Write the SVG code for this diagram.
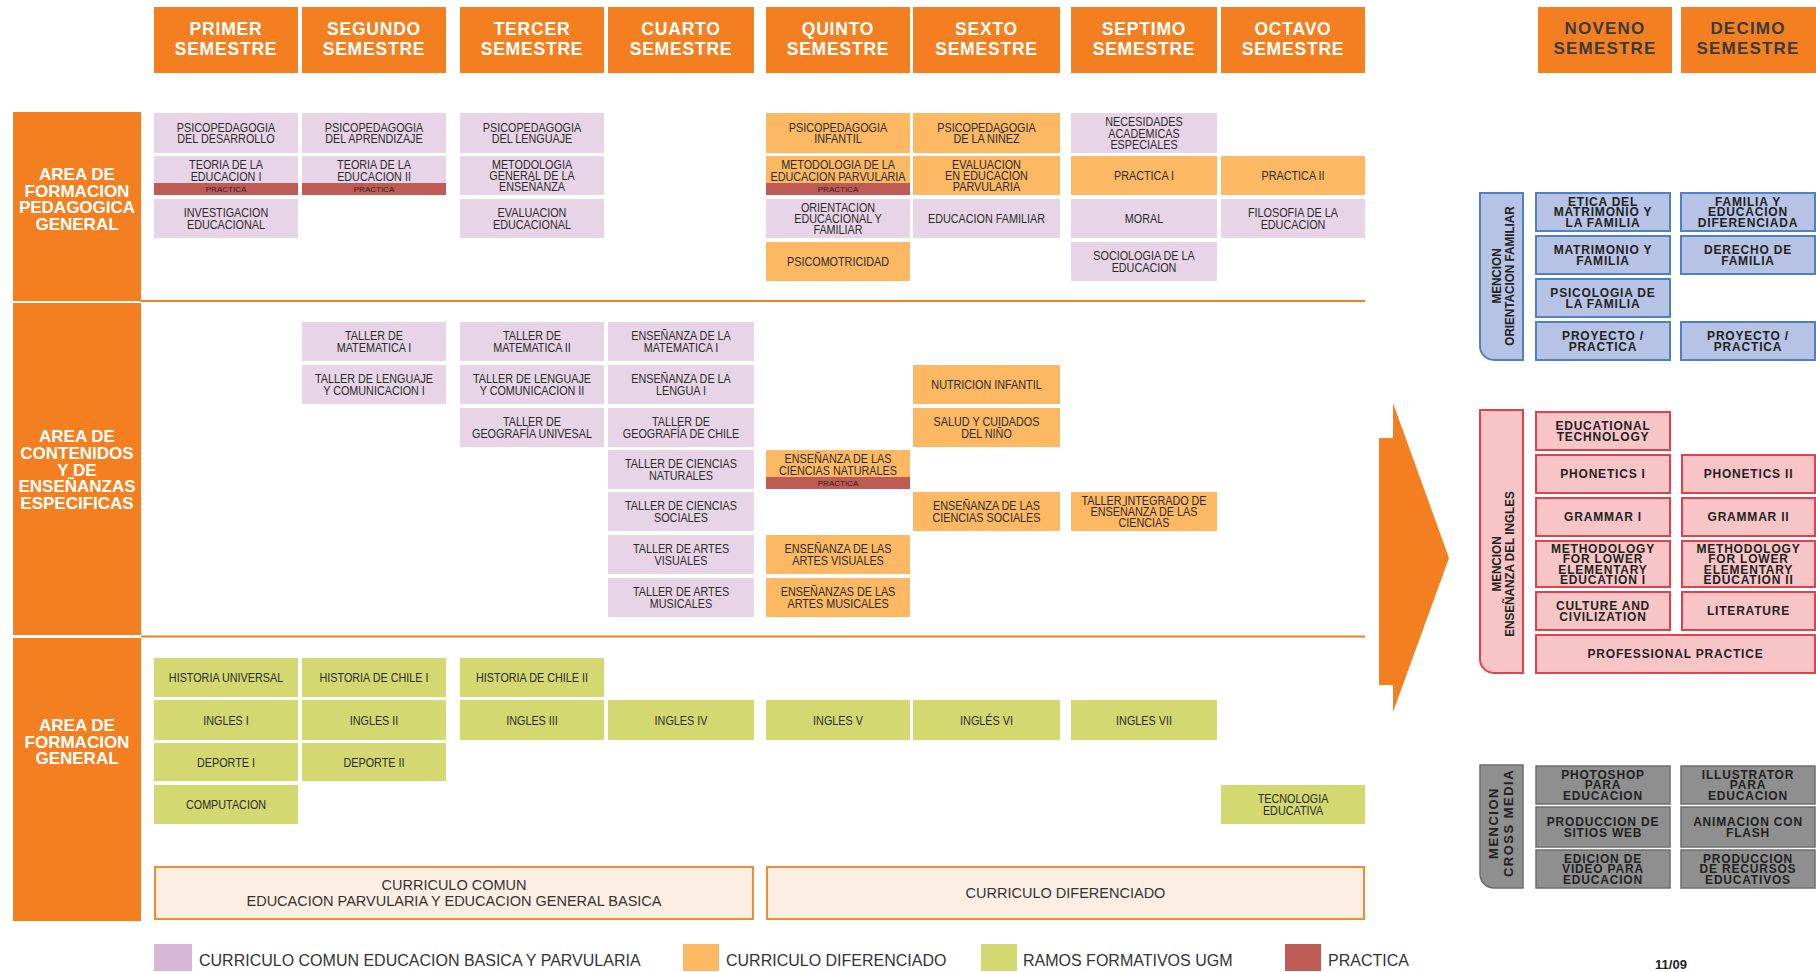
<svg xmlns="http://www.w3.org/2000/svg" width="1816" height="972" viewBox="0 0 1816 972">
<style>
.hd{fill:#f47f20}
.ht{font-family:"Liberation Sans",Arial,sans-serif;font-weight:bold;font-size:17.5px;fill:#fff;text-anchor:middle;letter-spacing:0.8px}
.ht2{font-family:"Liberation Sans",Arial,sans-serif;font-weight:bold;font-size:17px;fill:#3a3a3a;text-anchor:middle;letter-spacing:1.2px}
.at{font-family:"Liberation Sans",Arial,sans-serif;font-weight:bold;font-size:17px;fill:#fff;text-anchor:middle}
.p{fill:#e7d4e7}
.o{fill:#fdb863}
.g{fill:#d4d870}
.r{fill:#bf5b55}
.t{font-family:"Liberation Sans",Arial,sans-serif;font-size:12px;fill:#2b2b2b;text-anchor:middle}
.pt{font-family:"Liberation Sans",Arial,sans-serif;font-size:8px;fill:#3b2020;text-anchor:middle}
.bl{fill:#b7c3e4;stroke:#4e80c4;stroke-width:2}
.pk{fill:#f8c5c7;stroke:#e2404c;stroke-width:2}
.gy{fill:#8f8f8f;stroke:#6e6e6e;stroke-width:1.5}
.mt{font-family:"Liberation Sans",Arial,sans-serif;font-weight:bold;font-size:12px;fill:#222;text-anchor:middle;letter-spacing:0.8px}
.vt{font-family:"Liberation Sans",Arial,sans-serif;font-weight:bold;font-size:13px;fill:#222;text-anchor:middle}
.cb{fill:#fdeee3;stroke:#f58a35;stroke-width:2}
.ct{font-family:"Liberation Sans",Arial,sans-serif;font-size:14.5px;fill:#333;text-anchor:middle}
.lg{font-family:"Liberation Sans",Arial,sans-serif;font-size:16px;fill:#333}
.sep{stroke:#f47f20;stroke-width:2;fill:none}
</style>
<rect width="1816" height="972" fill="#fff"/>

<!-- semester headers -->
<g id="h1"><rect class="hd" x="154" y="7" width="144" height="66"/><text class="ht" x="226" y="35">PRIMER<tspan x="226" y="55">SEMESTRE</tspan></text></g>
<g id="h2"><rect class="hd" x="302" y="7" width="144" height="66"/><text class="ht" x="374" y="35">SEGUNDO<tspan x="374" y="55">SEMESTRE</tspan></text></g>
<g id="h3"><rect class="hd" x="460" y="7" width="144" height="66"/><text class="ht" x="532" y="35">TERCER<tspan x="532" y="55">SEMESTRE</tspan></text></g>
<g id="h4"><rect class="hd" x="608" y="7" width="146" height="66"/><text class="ht" x="681" y="35">CUARTO<tspan x="681" y="55">SEMESTRE</tspan></text></g>
<g id="h5"><rect class="hd" x="766" y="7" width="144" height="66"/><text class="ht" x="838" y="35">QUINTO<tspan x="838" y="55">SEMESTRE</tspan></text></g>
<g id="h6"><rect class="hd" x="913" y="7" width="147" height="66"/><text class="ht" x="986.5" y="35">SEXTO<tspan x="986.5" y="55">SEMESTRE</tspan></text></g>
<g id="h7"><rect class="hd" x="1071" y="7" width="146" height="66"/><text class="ht" x="1144" y="35">SEPTIMO<tspan x="1144" y="55">SEMESTRE</tspan></text></g>
<g id="h8"><rect class="hd" x="1221" y="7" width="144" height="66"/><text class="ht" x="1293" y="35">OCTAVO<tspan x="1293" y="55">SEMESTRE</tspan></text></g>
<g id="h9"><rect class="hd" x="1538" y="7" width="134" height="66"/><text class="ht2" x="1605" y="34">NOVENO<tspan x="1605" y="54">SEMESTRE</tspan></text></g>
<g id="h10"><rect class="hd" x="1681" y="7" width="135" height="66"/><text class="ht2" x="1748" y="34">DECIMO<tspan x="1748" y="54">SEMESTRE</tspan></text></g>

<!-- area labels -->
<g id="area1"><rect class="hd" x="13" y="112" width="128" height="189"/><text class="at" x="77" y="180">AREA DE<tspan x="77" y="196.5">FORMACION</tspan><tspan x="77" y="213">PEDAGOGICA</tspan><tspan x="77" y="230">GENERAL</tspan></text></g>
<g id="area2"><rect class="hd" x="13" y="303" width="128" height="332"/><text class="at" x="77" y="442">AREA DE<tspan x="77" y="459">CONTENIDOS</tspan><tspan x="77" y="475.5">Y DE</tspan><tspan x="77" y="492">ENSEÑANZAS</tspan><tspan x="77" y="509">ESPECIFICAS</tspan></text></g>
<g id="area3"><rect class="hd" x="13" y="638" width="128" height="283"/><text class="at" x="77" y="731">AREA DE<tspan x="77" y="747.5">FORMACION</tspan><tspan x="77" y="764">GENERAL</tspan></text></g>

<g id="separators">
<line class="sep" x1="141" y1="301" x2="1365" y2="301"/>
<line class="sep" x1="141" y1="636.5" x2="1365" y2="636.5"/>
</g>

<!-- AREA 1 -->
<g id="c1r1"><rect class="p" x="154" y="113" width="144" height="40"/><text class="t" transform="translate(226 133) scale(.9 1)"><tspan x="0" y="-1.25">PSICOPEDAGOGIA</tspan><tspan x="0" y="10.25">DEL DESARROLLO</tspan></text></g>
<g id="c1r2"><rect class="p" x="154" y="156" width="144" height="39"/><text class="t" transform="translate(226 170.5) scale(.9 1)"><tspan x="0" y="-1.25">TEORIA DE LA</tspan><tspan x="0" y="10.25">EDUCACION I</tspan></text><rect class="r" x="154" y="183" width="144" height="12"/><text class="pt" x="226" y="192">PRACTICA</text></g>
<g id="c1r3"><rect class="p" x="154" y="199" width="144" height="39"/><text class="t" transform="translate(226 218.5) scale(.9 1)"><tspan x="0" y="-1.25">INVESTIGACION</tspan><tspan x="0" y="10.25">EDUCACIONAL</tspan></text></g>
<g id="c2r1"><rect class="p" x="302" y="113" width="144" height="40"/><text class="t" transform="translate(374 133) scale(.9 1)"><tspan x="0" y="-1.25">PSICOPEDAGOGIA</tspan><tspan x="0" y="10.25">DEL APRENDIZAJE</tspan></text></g>
<g id="c2r2"><rect class="p" x="302" y="156" width="144" height="39"/><text class="t" transform="translate(374 170.5) scale(.9 1)"><tspan x="0" y="-1.25">TEORIA DE LA</tspan><tspan x="0" y="10.25">EDUCACION II</tspan></text><rect class="r" x="302" y="183" width="144" height="12"/><text class="pt" x="374" y="192">PRACTICA</text></g>
<g id="c3r1"><rect class="p" x="460" y="113" width="144" height="40"/><text class="t" transform="translate(532 133) scale(.9 1)"><tspan x="0" y="-1.25">PSICOPEDAGOGIA</tspan><tspan x="0" y="10.25">DEL LENGUAJE</tspan></text></g>
<g id="c3r2"><rect class="p" x="460" y="156" width="144" height="39"/><text class="t" transform="translate(532 175.5) scale(.9 1)"><tspan x="0" y="-7">METODOLOGIA</tspan><tspan x="0" y="4.5">GENERAL DE LA</tspan><tspan x="0" y="16">ENSEÑANZA</tspan></text></g>
<g id="c3r3"><rect class="p" x="460" y="199" width="144" height="39"/><text class="t" transform="translate(532 218.5) scale(.9 1)"><tspan x="0" y="-1.25">EVALUACION</tspan><tspan x="0" y="10.25">EDUCACIONAL</tspan></text></g>
<g id="c5r1"><rect class="o" x="766" y="113" width="144" height="40"/><text class="t" transform="translate(838 133) scale(.9 1)"><tspan x="0" y="-1.25">PSICOPEDAGOGIA</tspan><tspan x="0" y="10.25">INFANTIL</tspan></text></g>
<g id="c5r2"><rect class="o" x="766" y="156" width="144" height="39"/><text class="t" transform="translate(838 170.5) scale(.9 1)"><tspan x="0" y="-1.25">METODOLOGIA DE LA</tspan><tspan x="0" y="10.25">EDUCACION PARVULARIA</tspan></text><rect class="r" x="766" y="183" width="144" height="12"/><text class="pt" x="838" y="192">PRACTICA</text></g>
<g id="c5r3"><rect class="p" x="766" y="199" width="144" height="39"/><text class="t" transform="translate(838 218.5) scale(.9 1)"><tspan x="0" y="-7">ORIENTACION</tspan><tspan x="0" y="4.5">EDUCACIONAL Y</tspan><tspan x="0" y="16">FAMILIAR</tspan></text></g>
<g id="c5r4"><rect class="o" x="766" y="242" width="144" height="39"/><text class="t" transform="translate(838 261.5) scale(.9 1)"><tspan x="0" y="4.5">PSICOMOTRICIDAD</tspan></text></g>
<g id="c6r1"><rect class="o" x="913" y="113" width="147" height="40"/><text class="t" transform="translate(986.5 133) scale(.9 1)"><tspan x="0" y="-1.25">PSICOPEDAGOGIA</tspan><tspan x="0" y="10.25">DE LA NIÑEZ</tspan></text></g>
<g id="c6r2"><rect class="o" x="913" y="156" width="147" height="39"/><text class="t" transform="translate(986.5 175.5) scale(.9 1)"><tspan x="0" y="-7">EVALUACION</tspan><tspan x="0" y="4.5">EN EDUCACION</tspan><tspan x="0" y="16">PARVULARIA</tspan></text></g>
<g id="c6r3"><rect class="p" x="913" y="199" width="147" height="39"/><text class="t" transform="translate(986.5 218.5) scale(.9 1)"><tspan x="0" y="4.5">EDUCACION FAMILIAR</tspan></text></g>
<g id="c7r1"><rect class="p" x="1071" y="113" width="146" height="40"/><text class="t" transform="translate(1144 133) scale(.9 1)"><tspan x="0" y="-7">NECESIDADES</tspan><tspan x="0" y="4.5">ACADEMICAS</tspan><tspan x="0" y="16">ESPECIALES</tspan></text></g>
<g id="c7r2"><rect class="o" x="1071" y="156" width="146" height="39"/><text class="t" transform="translate(1144 175.5) scale(.9 1)"><tspan x="0" y="4.5">PRACTICA I</tspan></text></g>
<g id="c7r3"><rect class="p" x="1071" y="199" width="146" height="39"/><text class="t" transform="translate(1144 218.5) scale(.9 1)"><tspan x="0" y="4.5">MORAL</tspan></text></g>
<g id="c7r4"><rect class="p" x="1071" y="242" width="146" height="39"/><text class="t" transform="translate(1144 261.5) scale(.9 1)"><tspan x="0" y="-1.25">SOCIOLOGIA DE LA</tspan><tspan x="0" y="10.25">EDUCACION</tspan></text></g>
<g id="c8r2"><rect class="o" x="1221" y="156" width="144" height="39"/><text class="t" transform="translate(1293 175.5) scale(.9 1)"><tspan x="0" y="4.5">PRACTICA II</tspan></text></g>
<g id="c8r3"><rect class="p" x="1221" y="199" width="144" height="39"/><text class="t" transform="translate(1293 218.5) scale(.9 1)"><tspan x="0" y="-1.25">FILOSOFIA DE LA</tspan><tspan x="0" y="10.25">EDUCACION</tspan></text></g>

<!-- AREA 2 -->
<g id="a2c2r1"><rect class="p" x="302" y="322" width="144" height="39"/><text class="t" transform="translate(374 341.5) scale(.9 1)"><tspan x="0" y="-1.25">TALLER DE</tspan><tspan x="0" y="10.25">MATEMATICA I</tspan></text></g>
<g id="a2c2r2"><rect class="p" x="302" y="365" width="144" height="39"/><text class="t" transform="translate(374 384.5) scale(.9 1)"><tspan x="0" y="-1.25">TALLER DE LENGUAJE</tspan><tspan x="0" y="10.25">Y COMUNICACION I</tspan></text></g>
<g id="a2c3r1"><rect class="p" x="460" y="322" width="144" height="39"/><text class="t" transform="translate(532 341.5) scale(.9 1)"><tspan x="0" y="-1.25">TALLER DE</tspan><tspan x="0" y="10.25">MATEMATICA II</tspan></text></g>
<g id="a2c3r2"><rect class="p" x="460" y="365" width="144" height="39"/><text class="t" transform="translate(532 384.5) scale(.9 1)"><tspan x="0" y="-1.25">TALLER DE LENGUAJE</tspan><tspan x="0" y="10.25">Y COMUNICACION II</tspan></text></g>
<g id="a2c3r3"><rect class="p" x="460" y="408" width="144" height="39"/><text class="t" transform="translate(532 427.5) scale(.9 1)"><tspan x="0" y="-1.25">TALLER DE</tspan><tspan x="0" y="10.25">GEOGRAFÍA UNIVESAL</tspan></text></g>
<g id="a2c4r1"><rect class="p" x="608" y="322" width="146" height="39"/><text class="t" transform="translate(681 341.5) scale(.9 1)"><tspan x="0" y="-1.25">ENSEÑANZA DE LA</tspan><tspan x="0" y="10.25">MATEMATICA I</tspan></text></g>
<g id="a2c4r2"><rect class="p" x="608" y="365" width="146" height="39"/><text class="t" transform="translate(681 384.5) scale(.9 1)"><tspan x="0" y="-1.25">ENSEÑANZA DE LA</tspan><tspan x="0" y="10.25">LENGUA I</tspan></text></g>
<g id="a2c4r3"><rect class="p" x="608" y="408" width="146" height="39"/><text class="t" transform="translate(681 427.5) scale(.9 1)"><tspan x="0" y="-1.25">TALLER DE</tspan><tspan x="0" y="10.25">GEOGRAFÍA DE CHILE</tspan></text></g>
<g id="a2c4r4"><rect class="p" x="608" y="450" width="146" height="39"/><text class="t" transform="translate(681 469.5) scale(.9 1)"><tspan x="0" y="-1.25">TALLER DE CIENCIAS</tspan><tspan x="0" y="10.25">NATURALES</tspan></text></g>
<g id="a2c4r5"><rect class="p" x="608" y="492" width="146" height="39"/><text class="t" transform="translate(681 511.5) scale(.9 1)"><tspan x="0" y="-1.25">TALLER DE CIENCIAS</tspan><tspan x="0" y="10.25">SOCIALES</tspan></text></g>
<g id="a2c4r6"><rect class="p" x="608" y="535" width="146" height="39"/><text class="t" transform="translate(681 554.5) scale(.9 1)"><tspan x="0" y="-1.25">TALLER DE ARTES</tspan><tspan x="0" y="10.25">VISUALES</tspan></text></g>
<g id="a2c4r7"><rect class="p" x="608" y="578" width="146" height="39"/><text class="t" transform="translate(681 597.5) scale(.9 1)"><tspan x="0" y="-1.25">TALLER DE ARTES</tspan><tspan x="0" y="10.25">MUSICALES</tspan></text></g>
<g id="a2c5r4"><rect class="o" x="766" y="450" width="144" height="39"/><text class="t" transform="translate(838 464.5) scale(.9 1)"><tspan x="0" y="-1.25">ENSEÑANZA DE LAS</tspan><tspan x="0" y="10.25">CIENCIAS NATURALES</tspan></text><rect class="r" x="766" y="477" width="144" height="12"/><text class="pt" x="838" y="486">PRACTICA</text></g>
<g id="a2c5r6"><rect class="o" x="766" y="535" width="144" height="39"/><text class="t" transform="translate(838 554.5) scale(.9 1)"><tspan x="0" y="-1.25">ENSEÑANZA DE LAS</tspan><tspan x="0" y="10.25">ARTES VISUALES</tspan></text></g>
<g id="a2c5r7"><rect class="o" x="766" y="578" width="144" height="39"/><text class="t" transform="translate(838 597.5) scale(.9 1)"><tspan x="0" y="-1.25">ENSEÑANZAS DE LAS</tspan><tspan x="0" y="10.25">ARTES MUSICALES</tspan></text></g>
<g id="a2c6r2"><rect class="o" x="913" y="365" width="147" height="39"/><text class="t" transform="translate(986.5 384.5) scale(.9 1)"><tspan x="0" y="4.5">NUTRICION INFANTIL</tspan></text></g>
<g id="a2c6r3"><rect class="o" x="913" y="408" width="147" height="39"/><text class="t" transform="translate(986.5 427.5) scale(.9 1)"><tspan x="0" y="-1.25">SALUD Y CUIDADOS</tspan><tspan x="0" y="10.25">DEL NIÑO</tspan></text></g>
<g id="a2c6r5"><rect class="o" x="913" y="492" width="147" height="39"/><text class="t" transform="translate(986.5 511.5) scale(.9 1)"><tspan x="0" y="-1.25">ENSEÑANZA DE LAS</tspan><tspan x="0" y="10.25">CIENCIAS SOCIALES</tspan></text></g>
<g id="a2c7r5"><rect class="o" x="1071" y="492" width="146" height="39"/><text class="t" transform="translate(1144 511.5) scale(.9 1)"><tspan x="0" y="-7">TALLER INTEGRADO DE</tspan><tspan x="0" y="4.5">ENSEÑANZA DE LAS</tspan><tspan x="0" y="16">CIENCIAS</tspan></text></g>

<!-- AREA 3 -->
<g id="a3c1r1"><rect class="g" x="154" y="658" width="144" height="39"/><text class="t" transform="translate(226 677.5) scale(.9 1)"><tspan x="0" y="4.5">HISTORIA UNIVERSAL</tspan></text></g>
<g id="a3c1r2"><rect class="g" x="154" y="700" width="144" height="40"/><text class="t" transform="translate(226 720) scale(.9 1)"><tspan x="0" y="4.5">INGLES I</tspan></text></g>
<g id="a3c1r3"><rect class="g" x="154" y="743" width="144" height="38"/><text class="t" transform="translate(226 762) scale(.9 1)"><tspan x="0" y="4.5">DEPORTE I</tspan></text></g>
<g id="a3c1r4"><rect class="g" x="154" y="785" width="144" height="39"/><text class="t" transform="translate(226 804.5) scale(.9 1)"><tspan x="0" y="4.5">COMPUTACION</tspan></text></g>
<g id="a3c2r1"><rect class="g" x="302" y="658" width="144" height="39"/><text class="t" transform="translate(374 677.5) scale(.9 1)"><tspan x="0" y="4.5">HISTORIA DE CHILE I</tspan></text></g>
<g id="a3c2r2"><rect class="g" x="302" y="700" width="144" height="40"/><text class="t" transform="translate(374 720) scale(.9 1)"><tspan x="0" y="4.5">INGLES II</tspan></text></g>
<g id="a3c2r3"><rect class="g" x="302" y="743" width="144" height="38"/><text class="t" transform="translate(374 762) scale(.9 1)"><tspan x="0" y="4.5">DEPORTE II</tspan></text></g>
<g id="a3c3r1"><rect class="g" x="460" y="658" width="144" height="39"/><text class="t" transform="translate(532 677.5) scale(.9 1)"><tspan x="0" y="4.5">HISTORIA DE CHILE II</tspan></text></g>
<g id="a3c3r2"><rect class="g" x="460" y="700" width="144" height="40"/><text class="t" transform="translate(532 720) scale(.9 1)"><tspan x="0" y="4.5">INGLES III</tspan></text></g>
<g id="a3c4r2"><rect class="g" x="608" y="700" width="146" height="40"/><text class="t" transform="translate(681 720) scale(.9 1)"><tspan x="0" y="4.5">INGLES IV</tspan></text></g>
<g id="a3c5r2"><rect class="g" x="766" y="700" width="144" height="40"/><text class="t" transform="translate(838 720) scale(.9 1)"><tspan x="0" y="4.5">INGLES V</tspan></text></g>
<g id="a3c6r2"><rect class="g" x="913" y="700" width="147" height="40"/><text class="t" transform="translate(986.5 720) scale(.9 1)"><tspan x="0" y="4.5">INGLÉS VI</tspan></text></g>
<g id="a3c7r2"><rect class="g" x="1071" y="700" width="146" height="40"/><text class="t" transform="translate(1144 720) scale(.9 1)"><tspan x="0" y="4.5">INGLES VII</tspan></text></g>
<g id="a3c8r4"><rect class="g" x="1221" y="785" width="144" height="39"/><text class="t" transform="translate(1293 804.5) scale(.9 1)"><tspan x="0" y="-1.25">TECNOLOGIA</tspan><tspan x="0" y="10.25">EDUCATIVA</tspan></text></g>

<!-- curriculum boxes -->
<g id="curr-comun"><rect class="cb" x="155" y="867" width="598" height="52"/><text class="ct" x="454" y="890">CURRICULO COMUN<tspan x="454" y="906">EDUCACION PARVULARIA Y EDUCACION GENERAL BASICA</tspan></text></g>
<g id="curr-dif"><rect class="cb" x="767" y="867" width="597" height="52"/><text class="ct" x="1065.5" y="898">CURRICULO DIFERENCIADO</text></g>

<!-- legend -->
<g id="legend">
<rect x="154" y="944" width="38" height="27" fill="#d8b6d8"/><text class="lg" x="199" y="966">CURRICULO COMUN EDUCACION BASICA Y PARVULARIA</text>
<rect x="683" y="944" width="36" height="27" fill="#fdb863"/><text class="lg" x="726" y="966">CURRICULO DIFERENCIADO</text>
<rect x="981" y="944" width="36" height="27" fill="#d4d870"/><text class="lg" x="1023" y="966">RAMOS FORMATIVOS UGM</text>
<rect x="1285" y="944" width="36" height="27" fill="#bf5b55"/><text class="lg" x="1328" y="966">PRACTICA</text>
</g>
<g id="date"><text x="1671" y="969" font-family="Liberation Sans, Arial, sans-serif" font-weight="bold" font-size="13" fill="#222" text-anchor="middle">11/09</text></g>

<!-- connectors -->
<g id="connectors">
<polygon points="1379,438 1393,438 1393,403 1449,558 1393,712 1393,685 1379,685" fill="#f47f20"/>
</g>

<!-- Mencion Orientacion Familiar -->
<g id="m-fam-label"><path class="bl" d="M1480,193 H1523 V360 H1494 A14,14 0 0 1 1480,346 Z"/><text class="vt" transform="translate(1501 276) rotate(-90) scale(.9 1)"><tspan x="0" y="0">MENCION</tspan><tspan x="0" y="13">ORIENTACION FAMILIAR</tspan></text></g>
<g id="fam1"><rect class="bl" x="1536" y="193" width="134" height="38"/><text class="mt" x="1603" y="205.8">ETICA DEL<tspan x="1603" y="216.3">MATRIMONIO Y</tspan><tspan x="1603" y="226.8">LA FAMILIA</tspan></text></g>
<g id="fam2"><rect class="bl" x="1681" y="193" width="134" height="38"/><text class="mt" x="1748" y="205.8">FAMILIA Y<tspan x="1748" y="216.3">EDUCACION</tspan><tspan x="1748" y="226.8">DIFERENCIADA</tspan></text></g>
<g id="fam3"><rect class="bl" x="1536" y="236" width="134" height="38"/><text class="mt" x="1603" y="254">MATRIMONIO Y<tspan x="1603" y="264.5">FAMILIA</tspan></text></g>
<g id="fam4"><rect class="bl" x="1681" y="236" width="134" height="38"/><text class="mt" x="1748" y="254">DERECHO DE<tspan x="1748" y="264.5">FAMILIA</tspan></text></g>
<g id="fam5"><rect class="bl" x="1536" y="279" width="134" height="38"/><text class="mt" x="1603" y="297">PSICOLOGIA DE<tspan x="1603" y="307.5">LA FAMILIA</tspan></text></g>
<g id="fam6"><rect class="bl" x="1536" y="322" width="134" height="38"/><text class="mt" x="1603" y="340">PROYECTO /<tspan x="1603" y="350.5">PRACTICA</tspan></text></g>
<g id="fam7"><rect class="bl" x="1681" y="322" width="134" height="38"/><text class="mt" x="1748" y="340">PROYECTO /<tspan x="1748" y="350.5">PRACTICA</tspan></text></g>

<!-- Mencion Ingles -->
<g id="m-ing-label"><path class="pk" d="M1480,410 H1523 V673 H1494 A14,14 0 0 1 1480,659 Z"/><text class="vt" transform="translate(1501 564) rotate(-90) scale(.9 1)"><tspan x="0" y="0">MENCION</tspan><tspan x="0" y="13">ENSEÑANZA DEL INGLES</tspan></text></g>
<g id="ing1"><rect class="pk" x="1536" y="412" width="134" height="38"/><text class="mt" x="1603" y="430">EDUCATIONAL<tspan x="1603" y="440.5">TECHNOLOGY</tspan></text></g>
<g id="ing2"><rect class="pk" x="1682" y="455" width="133" height="38"/><text class="mt" x="1748.5" y="478.3">PHONETICS II</text></g>
<g id="ing3"><rect class="pk" x="1536" y="455" width="134" height="38"/><text class="mt" x="1603" y="478.3">PHONETICS I</text></g>
<g id="ing4"><rect class="pk" x="1536" y="498" width="134" height="38"/><text class="mt" x="1603" y="521.3">GRAMMAR I</text></g>
<g id="ing5"><rect class="pk" x="1682" y="498" width="133" height="38"/><text class="mt" x="1748.5" y="521.3">GRAMMAR II</text></g>
<g id="ing6"><rect class="pk" x="1536" y="541" width="134" height="46"/><text class="mt" x="1603" y="552.5">METHODOLOGY<tspan x="1603" y="563">FOR LOWER</tspan><tspan x="1603" y="573.5">ELEMENTARY</tspan><tspan x="1603" y="584">EDUCATION I</tspan></text></g>
<g id="ing7"><rect class="pk" x="1682" y="541" width="133" height="46"/><text class="mt" x="1748.5" y="552.5">METHODOLOGY<tspan x="1748.5" y="563">FOR LOWER</tspan><tspan x="1748.5" y="573.5">ELEMENTARY</tspan><tspan x="1748.5" y="584">EDUCATION II</tspan></text></g>
<g id="ing8"><rect class="pk" x="1536" y="592" width="134" height="38"/><text class="mt" x="1603" y="610">CULTURE AND<tspan x="1603" y="620.5">CIVILIZATION</tspan></text></g>
<g id="ing9"><rect class="pk" x="1682" y="592" width="133" height="38"/><text class="mt" x="1748.5" y="615.3">LITERATURE</text></g>
<g id="ing10"><rect class="pk" x="1536" y="635" width="279" height="38"/><text class="mt" x="1675.5" y="658.3">PROFESSIONAL PRACTICE</text></g>

<!-- Mencion Cross Media -->
<g id="m-cm-label"><path class="gy" d="M1480,765 H1523 V888 H1494 A14,14 0 0 1 1480,874 Z"/><text class="vt" style="letter-spacing:1.5px" transform="translate(1498 823) rotate(-90)"><tspan x="0" y="0">MENCION</tspan><tspan x="0" y="15">CROSS MEDIA</tspan></text></g>
<g id="cm1"><rect class="gy" x="1536" y="766" width="134" height="38"/><text class="mt" x="1603" y="778.8">PHOTOSHOP<tspan x="1603" y="789.3">PARA</tspan><tspan x="1603" y="799.8">EDUCACION</tspan></text></g>
<g id="cm2"><rect class="gy" x="1681" y="766" width="134" height="38"/><text class="mt" x="1748" y="778.8">ILLUSTRATOR<tspan x="1748" y="789.3">PARA</tspan><tspan x="1748" y="799.8">EDUCACION</tspan></text></g>
<g id="cm3"><rect class="gy" x="1536" y="807" width="134" height="40"/><text class="mt" x="1603" y="826">PRODUCCION DE<tspan x="1603" y="836.5">SITIOS WEB</tspan></text></g>
<g id="cm4"><rect class="gy" x="1681" y="807" width="134" height="40"/><text class="mt" x="1748" y="826">ANIMACION CON<tspan x="1748" y="836.5">FLASH</tspan></text></g>
<g id="cm5"><rect class="gy" x="1536" y="850" width="134" height="38"/><text class="mt" x="1603" y="862.8">EDICION DE<tspan x="1603" y="873.3">VIDEO PARA</tspan><tspan x="1603" y="883.8">EDUCACION</tspan></text></g>
<g id="cm6"><rect class="gy" x="1681" y="850" width="134" height="38"/><text class="mt" x="1748" y="862.8">PRODUCCION<tspan x="1748" y="873.3">DE RECURSOS</tspan><tspan x="1748" y="883.8">EDUCATIVOS</tspan></text></g>
</svg>
